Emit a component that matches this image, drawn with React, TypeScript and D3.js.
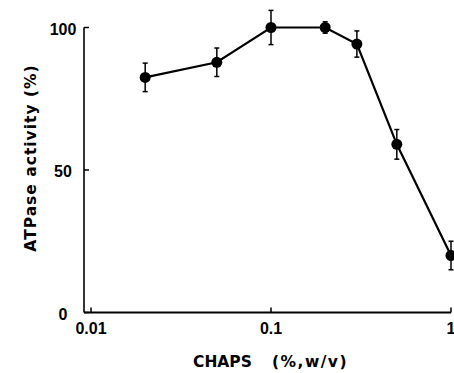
import React, { useEffect, useRef } from "react";
import * as d3 from "d3";

// CHAPS concentration (%, w/v) and ATPase activity (%)
const chaps = [0.02, 0.05, 0.1, 0.2, 0.3, 0.5, 1];
const activity = [82.5, 87.8, 100, 100, 94.2, 59, 20];
const errors = [5, 5, 6, 2, 4.6, 5.2, 5];
const xTicks = [0.01, 0.1, 1];
const xTickLabels = ["0.01", "0.1", "1"];
const yTicks = [0, 50, 100];

const App = () => {
  const ref = useRef<SVGSVGElement>(null);

  useEffect(() => {
    const svg = d3.select(ref.current);
    svg.selectAll("*").remove();

    const axisX = 84; // position of the y axis line
    const font = "'Liberation Sans', Arial, sans-serif";
    const titleFont = "'DejaVu Sans', sans-serif";

    const x = d3.scaleLog().domain([0.01, 1]).range([91, 451]);
    const y = d3.scaleLinear().domain([0, 100]).range([312.5, 27.5]);

    const g = svg.append("g");

    // axis lines
    g.append("line")
      .attr("x1", axisX)
      .attr("x2", x(1))
      .attr("y1", y(0))
      .attr("y2", y(0))
      .attr("stroke", "#000")
      .attr("stroke-width", 2);
    g.append("line")
      .attr("x1", axisX)
      .attr("x2", axisX)
      .attr("y1", y(0))
      .attr("y2", y(100))
      .attr("stroke", "#000")
      .attr("stroke-width", 1.6);

    // x ticks (inward)
    g.selectAll(".xtick")
      .data(xTicks)
      .join("line")
      .attr("x1", (d) => x(d))
      .attr("x2", (d) => x(d))
      .attr("y1", y(0))
      .attr("y2", y(0) - 5)
      .attr("stroke", "#000")
      .attr("stroke-width", 1.5);

    g.selectAll(".xlabel")
      .data(xTicks)
      .join("text")
      .attr("x", (d) => x(d))
      .attr("y", y(0) + 21)
      .attr("text-anchor", "middle")
      .style("font-family", font)
      .style("font-weight", "900")
      .style("font-size", "16px")
      .text((d, i) => xTickLabels[i]);

    // y ticks (inward)
    g.selectAll(".ytick")
      .data(yTicks)
      .join("line")
      .attr("x1", axisX)
      .attr("x2", axisX + 5)
      .attr("y1", (d) => y(d))
      .attr("y2", (d) => y(d))
      .attr("stroke", "#000")
      .attr("stroke-width", 1.5);

    g.selectAll(".ylabel")
      .data(yTicks)
      .join("text")
      .attr("x", 63)
      .attr("y", (d) => y(d) + 7)
      .attr("text-anchor", "middle")
      .style("font-family", font)
      .style("font-weight", "900")
      .style("font-size", "16px")
      .text((d) => String(d));

    // axis titles
    const xt = g
      .append("text")
      .attr("x", 193)
      .attr("y", 367)
      .style("font-family", titleFont)
      .style("font-weight", "bold")
      .style("font-size", "15.5px");
    xt.append("tspan").text("CHAPS");
    xt.append("tspan")
      .attr("dx", 20)
      .style("letter-spacing", "1.5px")
      .text("(%,w/v)");

    g.append("text")
      .attr("transform", `translate(36, 158) rotate(-90)`)
      .attr("text-anchor", "middle")
      .style("font-family", titleFont)
      .style("font-weight", "bold")
      .style("font-size", "15.5px")
      .style("letter-spacing", "1px")
      .text("ATPase activity (%)");

    const data = chaps.map((c, i) => ({ c, v: activity[i], e: errors[i] }));

    // error bars
    const eb = g.selectAll(".eb").data(data).join("g");
    eb.append("line")
      .attr("x1", (d) => x(d.c))
      .attr("x2", (d) => x(d.c))
      .attr("y1", (d) => y(d.v - d.e))
      .attr("y2", (d) => y(d.v + d.e))
      .attr("stroke", "#000")
      .attr("stroke-width", 1.5);
    eb.append("line")
      .attr("x1", (d) => x(d.c) - 2.5)
      .attr("x2", (d) => x(d.c) + 2.5)
      .attr("y1", (d) => y(d.v + d.e))
      .attr("y2", (d) => y(d.v + d.e))
      .attr("stroke", "#000")
      .attr("stroke-width", 1.5);
    eb.append("line")
      .attr("x1", (d) => x(d.c) - 2.5)
      .attr("x2", (d) => x(d.c) + 2.5)
      .attr("y1", (d) => y(d.v - d.e))
      .attr("y2", (d) => y(d.v - d.e))
      .attr("stroke", "#000")
      .attr("stroke-width", 1.5);

    // connecting line
    const line = d3
      .line<{ c: number; v: number }>()
      .x((d) => x(d.c))
      .y((d) => y(d.v));
    g.append("path")
      .datum(data)
      .attr("d", line)
      .attr("fill", "none")
      .attr("stroke", "#000")
      .attr("stroke-width", 2.2);

    // markers
    g.selectAll(".pt")
      .data(data)
      .join("circle")
      .attr("cx", (d) => x(d.c))
      .attr("cy", (d) => y(d.v))
      .attr("r", 5.5)
      .attr("fill", "#000");
  }, []);

  return (
    <svg
      ref={ref}
      width={454}
      height={373}
      style={{ position: "absolute", left: 0, top: 0, background: "#fff" }}
    />
  );
};

export default App;
